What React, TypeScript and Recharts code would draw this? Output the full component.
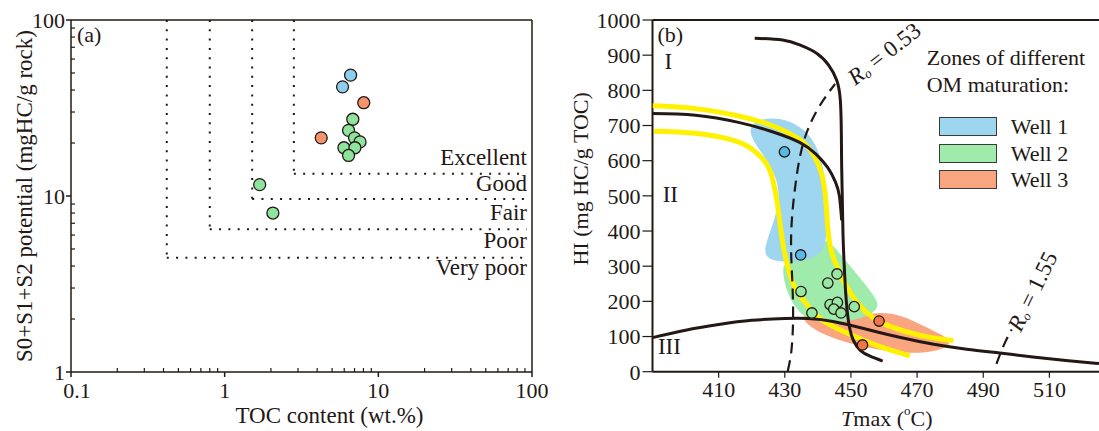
import React from "react";
import {
  ScatterChart,
  Scatter,
  XAxis,
  YAxis,
  ReferenceLine,
  ReferenceDot,
  Legend,
} from "recharts";

const INK = "#231815";
const SERIF = '"Liberation Serif", "Times New Roman", serif';

// ---------- (a) TOC vs S0+S1+S2 ----------
const potentialWell1 = [
  { toc: 6.6, pot: 48.6 },
  { toc: 5.85, pot: 41.7 },
];
const potentialWell2 = [
  { toc: 6.82, pot: 27.3 },
  { toc: 6.4, pot: 23.6 },
  { toc: 7.0, pot: 21.4 },
  { toc: 7.6, pot: 20.3 },
  { toc: 5.97, pot: 18.8 },
  { toc: 7.04, pot: 18.8 },
  { toc: 6.4, pot: 17.0 },
  { toc: 1.69, pot: 11.6 },
  { toc: 2.06, pot: 8.0 },
];
const potentialWell3 = [
  { toc: 8.04, pot: 33.9 },
  { toc: 4.25, pot: 21.4 },
];

// Very poor/Poor, Poor/Fair, Fair/Good, Good/Excellent
const tocCutoffs = [0.42, 0.8, 1.51, 2.82];
const potentialCutoffs = [4.46, 6.47, 9.6, 13.4];
const richnessClasses = ["Very poor", "Poor", "Fair", "Good", "Excellent"];
const richnessLabelPot = [3.9, 5.6, 8.1, 11.7, 16.5];

const tocMajorTicks = [0.1, 1, 10, 100];
const tocMinorTicks = [
  0.2, 0.3, 0.4, 0.5, 0.6, 0.7, 0.8, 0.9, 2, 3, 4, 5, 6, 7, 8, 9, 20, 30, 40,
  50, 60, 70, 80, 90,
];
const potMajorTicks = [1, 10, 100];
const potMinorTicks = [2, 3, 4, 5, 6, 7, 8, 9, 20, 30, 40, 50, 60, 70, 80, 90];

// ---------- (b) Tmax vs HI ----------
const tmaxTicks = [410, 430, 450, 470, 490, 510];
const hiTicks = [0, 100, 200, 300, 400, 500, 600, 700, 800, 900, 1000];

const curveTypeI = [
  { t: 420.9, hi: 948 },
  { t: 429.3, hi: 943 },
  { t: 434.5, hi: 929 },
  { t: 439.7, hi: 905 },
  { t: 443.3, hi: 871 },
  { t: 445.7, hi: 829 },
  { t: 446.8, hi: 771 },
  { t: 447.1, hi: 676 },
  { t: 447.2, hi: 581 },
  { t: 447.4, hi: 486 },
  { t: 447.6, hi: 390 },
  { t: 448.0, hi: 296 },
  { t: 448.6, hi: 200 },
  { t: 449.5, hi: 130 },
  { t: 450.8, hi: 88 },
  { t: 452.9, hi: 60 },
  { t: 455.8, hi: 44 },
  { t: 459.6, hi: 30 },
];
const curveTypeII = [
  { t: 390, hi: 734 },
  { t: 403, hi: 729 },
  { t: 416, hi: 709 },
  { t: 426, hi: 683 },
  { t: 434.5, hi: 652 },
  { t: 439.5, hi: 618 },
  { t: 443, hi: 580 },
  { t: 445.3, hi: 540 },
  { t: 446.5, hi: 500 },
  { t: 447.2, hi: 430 },
];
const curveTypeIII = [
  { t: 390, hi: 97 },
  { t: 400, hi: 118 },
  { t: 410, hi: 134 },
  { t: 420, hi: 146 },
  { t: 430, hi: 151 },
  { t: 437, hi: 151 },
  { t: 445, hi: 142 },
  { t: 455, hi: 120 },
  { t: 465, hi: 97 },
  { t: 475, hi: 78 },
  { t: 485, hi: 64 },
  { t: 495, hi: 53 },
  { t: 505, hi: 42 },
  { t: 515, hi: 32 },
  { t: 525, hi: 23 },
];
const yellowUpper = [
  { t: 390, hi: 756 },
  { t: 403, hi: 748 },
  { t: 416, hi: 727 },
  { t: 426, hi: 700 },
  { t: 434.5, hi: 660 },
  { t: 438.8, hi: 615 },
  { t: 441.2, hi: 560 },
  { t: 442.4, hi: 487 },
  { t: 443, hi: 410 },
  { t: 444, hi: 345 },
  { t: 446.2, hi: 290 },
  { t: 448.5, hi: 245 },
  { t: 452, hi: 195 },
  { t: 456.5, hi: 155 },
  { t: 462, hi: 128 },
  { t: 471, hi: 103 },
  { t: 481, hi: 88 },
];
const yellowLower = [
  { t: 390.5, hi: 684 },
  { t: 403, hi: 678 },
  { t: 414, hi: 659 },
  { t: 420, hi: 633 },
  { t: 424.5, hi: 590 },
  { t: 426.5, hi: 540 },
  { t: 427.8, hi: 475 },
  { t: 429, hi: 390 },
  { t: 430.8, hi: 302 },
  { t: 433, hi: 240 },
  { t: 435.5, hi: 205 },
  { t: 440.6, hi: 152 },
  { t: 448.3, hi: 112 },
  { t: 458, hi: 74 },
  { t: 467.8, hi: 45 },
];
const roLine053 = [
  { t: 430.9, hi: 2 },
  { t: 432.0, hi: 60 },
  { t: 432.5, hi: 150 },
  { t: 432.3, hi: 250 },
  { t: 431.9, hi: 350 },
  { t: 432.2, hi: 440 },
  { t: 433.2, hi: 530 },
  { t: 434.9, hi: 625 },
  { t: 437.7, hi: 705 },
  { t: 441.5, hi: 770 },
  { t: 445.2, hi: 818 },
];
const roLine155 = [
  { t: 494.0, hi: 22 },
  { t: 496.2, hi: 75 },
  { t: 498.6, hi: 120 },
];

const zoneWell1 = [
  { t: 419.5, hi: 702 },
  { t: 423, hi: 720 },
  { t: 428.5, hi: 722 },
  { t: 434, hi: 702 },
  { t: 438.5, hi: 665 },
  { t: 441.3, hi: 600 },
  { t: 442.6, hi: 520 },
  { t: 442.8, hi: 440 },
  { t: 442.6, hi: 372 },
  { t: 441, hi: 333 },
  { t: 436, hi: 314 },
  { t: 431, hi: 311 },
  { t: 425.5, hi: 316 },
  { t: 423.6, hi: 338 },
  { t: 424.8, hi: 380 },
  { t: 427.6, hi: 450 },
  { t: 428.5, hi: 520 },
  { t: 426.3, hi: 575 },
  { t: 422.8, hi: 625 },
  { t: 419.6, hi: 668 },
];
const zoneWell2 = [
  { t: 429.5, hi: 312 },
  { t: 435, hi: 322 },
  { t: 440, hi: 345 },
  { t: 442.3, hi: 382 },
  { t: 445.2, hi: 352 },
  { t: 449.3, hi: 306 },
  { t: 453.5, hi: 258 },
  { t: 457.3, hi: 212 },
  { t: 458.6, hi: 184 },
  { t: 455.8, hi: 160 },
  { t: 451, hi: 147 },
  { t: 445, hi: 139 },
  { t: 439.6, hi: 142 },
  { t: 435.5, hi: 158 },
  { t: 433, hi: 185 },
  { t: 430.4, hi: 230 },
  { t: 429.4, hi: 280 },
];
const zoneWell3 = [
  { t: 435, hi: 166 },
  { t: 441, hi: 170 },
  { t: 447, hi: 164 },
  { t: 453, hi: 160 },
  { t: 459, hi: 170 },
  { t: 465.5, hi: 160 },
  { t: 471.5, hi: 132 },
  { t: 477.5, hi: 106 },
  { t: 480.8, hi: 82 },
  { t: 477.5, hi: 62 },
  { t: 471, hi: 52 },
  { t: 464, hi: 55 },
  { t: 455.5, hi: 67 },
  { t: 447, hi: 87 },
  { t: 440, hi: 113 },
  { t: 436, hi: 140 },
];

const hiWell1 = [
  { t: 429.9, hi: 625 },
  { t: 434.8, hi: 332 },
];
const hiWell2 = [
  { t: 434.9, hi: 228 },
  { t: 438.2, hi: 167 },
  { t: 443, hi: 252 },
  { t: 445.8, hi: 278 },
  { t: 443.7, hi: 191 },
  { t: 445.9, hi: 197 },
  { t: 444.8, hi: 178 },
  { t: 447, hi: 167 },
  { t: 451, hi: 185 },
];
const hiWell3 = [
  { t: 458.5, hi: 144 },
  { t: 453.5, hi: 76 },
];

const zoneNames = ["Well 1", "Well 2", "Well 3"];
const zoneColors = ["#9fd6ef", "#9eebac", "#f9a57f"];

const NoShape = () => <g />;

const dot = (fill: string, r: number) => (props: any) =>
  (
    <circle
      cx={props.cx}
      cy={props.cy}
      r={r}
      fill={fill}
      stroke={INK}
      strokeWidth={1.3}
    />
  );

const textStyle = { fill: INK, fontFamily: SERIF };
const TICK_FONT = 22;

const LogXTick = (props: any) => {
  const { x, y, payload } = props;
  const v = payload.value;
  if (!tocMajorTicks.includes(v)) {
    return <line x1={x} x2={x} y1={y} y2={y - 4} stroke={INK} strokeWidth={1.2} />;
  }
  return (
    <g>
      <line x1={x} x2={x} y1={y} y2={y + 5} stroke={INK} strokeWidth={1.5} />
      <text
        x={x + (v === 0.1 ? 6 : 0)}
        y={y + 18}
        textAnchor="middle"
        dominantBaseline="central"
        fontSize={TICK_FONT}
        {...textStyle}
      >
        {v}
      </text>
    </g>
  );
};

const LogYTick = (props: any) => {
  const { x, y, payload } = props;
  const v = payload.value;
  if (!potMajorTicks.includes(v)) {
    return <line x1={x} x2={x + 4} y1={y} y2={y} stroke={INK} strokeWidth={1.2} />;
  }
  return (
    <g>
      <line x1={x - 5} x2={x} y1={y} y2={y} stroke={INK} strokeWidth={1.5} />
      <text
        x={x - 6}
        y={y}
        textAnchor="end"
        dominantBaseline="central"
        fontSize={TICK_FONT}
        {...textStyle}
      >
        {v}
      </text>
    </g>
  );
};

// axis titles, placed relative to the axis line (right edge of a left y-axis)
const YTitle = (props: any) => {
  const vb = props.viewBox || { x: props.fx, y: 20, width: 0, height: 352 };
  const cx = vb.x + vb.width + props.dx;
  const cy = vb.y + vb.height / 2 + props.dy;
  return (
    <text
      x={cx}
      y={cy}
      transform={`rotate(-90, ${cx}, ${cy})`}
      textAnchor="middle"
      dominantBaseline="central"
      fontSize={props.size}
      {...textStyle}
    >
      {props.children}
    </text>
  );
};

const XTitle = (props: any) => {
  const vb = props.viewBox || { x: props.fx, y: 372, width: props.fw, height: 0 };
  const cx = vb.x + vb.width / 2 + props.dx;
  const cy = vb.y + props.dy;
  return (
    <text
      x={cx}
      y={cy}
      textAnchor="middle"
      dominantBaseline="central"
      fontSize={props.size}
      {...textStyle}
    >
      {props.children}
    </text>
  );
};

const ZoneLegend = () => (
  <div
    style={{
      fontFamily: SERIF,
      fontSize: 22,
      lineHeight: "27px",
      color: INK,
      whiteSpace: "nowrap",
      textAlign: "left",
    }}
  >
    <div>Zones of different</div>
    <div>OM maturation:</div>
    <div style={{ marginTop: 15, paddingLeft: 12 }}>
      {zoneNames.map((name, i) => (
        <div
          key={name}
          style={{ display: "flex", alignItems: "center", height: 26.7 }}
        >
          <span
            style={{
              display: "inline-block",
              width: 56,
              height: 17,
              background: zoneColors[i],
              border: "1.5px solid #3a3a3a",
              marginRight: 14,
            }}
          />
          <span>{name}</span>
        </div>
      ))}
    </div>
  </div>
);

const RoLabel = (value: string, angle: number) => (props: any) => {
  const { cx, cy } = props;
  return (
    <text
      x={cx}
      y={cy}
      transform={`rotate(${angle}, ${cx}, ${cy})`}
      textAnchor="middle"
      dominantBaseline="central"
      fontSize={23}
      {...textStyle}
    >
      <tspan fontStyle="italic">R</tspan>
      <tspan fontSize={13} dy={5} fontStyle="italic">
        o
      </tspan>
      <tspan dy={-5}>{` = ${value}`}</tspan>
    </text>
  );
};

const PlainLabel =
  (value: string, dx: number, dy: number, anchor: string, size = 23) =>
  (props: any) =>
    (
      <text
        x={props.cx + dx}
        y={props.cy + dy}
        textAnchor={anchor as any}
        dominantBaseline="central"
        fontSize={size}
        {...textStyle}
      >
        {value}
      </text>
    );

function RichnessChart() {
  return (
    <ScatterChart
      width={560}
      height={431}
      margin={{ top: 20, right: 28, bottom: 19, left: 11 }}
    >
      <XAxis
        type="number"
        dataKey="toc"
        scale="log"
        domain={[0.1, 100]}
        allowDataOverflow
        ticks={[...tocMajorTicks, ...tocMinorTicks]}
        interval={0}
        height={40}
        tickSize={0}
        tickMargin={0}
        tickLine={false}
        tick={<LogXTick />}
        axisLine={{ stroke: INK, strokeWidth: 1.5 }}
        label={
          <XTitle dx={28} dy={43} size={23} fx={71} fw={461}>
            TOC content (wt.%)
          </XTitle>
        }
      />
      <YAxis
        type="number"
        dataKey="pot"
        scale="log"
        domain={[1, 100]}
        allowDataOverflow
        ticks={[...potMajorTicks, ...potMinorTicks]}
        interval={0}
        width={60}
        tickSize={0}
        tickMargin={0}
        tickLine={false}
        tick={<LogYTick />}
        axisLine={{ stroke: INK, strokeWidth: 1.5 }}
        label={
          <YTitle dx={-47} dy={0} size={23} fx={71}>
            S0+S1+S2 potential (mgHC/g rock)
          </YTitle>
        }
      />
      <ReferenceLine y={100} stroke={INK} strokeWidth={1.5} />
      <ReferenceLine x={100} stroke={INK} strokeWidth={1.5} />
      {tocCutoffs.map((c, i) => (
        <ReferenceLine
          key={`v${c}`}
          segment={[
            { x: c, y: 100 },
            { x: c, y: potentialCutoffs[i] },
          ]}
          stroke={INK}
          strokeWidth={2}
          strokeDasharray="2 7.3"
        />
      ))}
      {potentialCutoffs.map((p, i) => (
        <ReferenceLine
          key={`h${p}`}
          segment={[
            { x: tocCutoffs[i], y: p },
            { x: 92, y: p },
          ]}
          stroke={INK}
          strokeWidth={2}
          strokeDasharray="2 7.3"
        />
      ))}
      {richnessClasses.map((name, i) => (
        <ReferenceDot
          key={name}
          x={100}
          y={richnessLabelPot[i]}
          r={0}
          shape={PlainLabel(name, -5, 0, "end")}
        />
      ))}
      <ReferenceDot x={0.1} y={100} r={0} shape={PlainLabel("(a)", 6, 14, "start", 22)} />
      <Scatter data={potentialWell1} shape={dot("#8fcdee", 6)} isAnimationActive={false} />
      <Scatter data={potentialWell2} shape={dot("#8ee49c", 6)} isAnimationActive={false} />
      <Scatter data={potentialWell3} shape={dot("#f5946c", 6)} isAnimationActive={false} />
    </ScatterChart>
  );
}

function MaturityChart() {
  const curve = (data: any[], stroke: string, width: number, dash?: string) => (
    <Scatter
      data={data}
      line={{ stroke, strokeWidth: width, fill: "none", strokeDasharray: dash, strokeLinecap: "butt" }}
      lineJointType="natural"
      shape={NoShape}
      isAnimationActive={false}
      legendType="none"
    />
  );
  const zone = (data: any[], fill: string) => (
    <Scatter
      data={data}
      line={{ fill, stroke: "none" }}
      lineJointType="basisClosed"
      shape={NoShape}
      isAnimationActive={false}
      legendType="none"
    />
  );
  return (
    <ScatterChart
      width={539}
      height={431}
      margin={{ top: 20, right: 0, bottom: 19.3, left: 12.5 }}
    >
      <XAxis
        type="number"
        dataKey="t"
        domain={[390, 525]}
        allowDataOverflow
        ticks={tmaxTicks}
        interval={0}
        height={40}
        tickSize={6}
        tickMargin={4}
        axisLine={{ stroke: INK, strokeWidth: 2 }}
        tickLine={{ stroke: INK, strokeWidth: 1.2 }}
        tick={{ fill: INK, fontSize: TICK_FONT, fontFamily: SERIF }}
        label={
          <XTitle dx={11} dy={46} size={22} fx={92.5} fw={446.5}>
            <tspan fontStyle="italic">T</tspan>
            <tspan>max (</tspan>
            <tspan fontSize={13} dy={-8}>
              o
            </tspan>
            <tspan dy={8}>C)</tspan>
          </XTitle>
        }
      />
      <YAxis
        type="number"
        dataKey="hi"
        domain={[0, 1000]}
        allowDataOverflow
        ticks={hiTicks}
        interval={0}
        width={80}
        tickSize={10}
        tickMargin={2}
        axisLine={{ stroke: INK, strokeWidth: 2 }}
        tickLine={{ stroke: INK, strokeWidth: 1.2 }}
        tick={{ fill: INK, fontSize: TICK_FONT, fontFamily: SERIF }}
        label={
          <YTitle dx={-71.5} dy={-17} size={22} fx={92.5}>
            HI (mg HC/g TOC)
          </YTitle>
        }
      />
      <ReferenceLine y={1000} stroke={INK} strokeWidth={2} />
      {zone(zoneWell3, zoneColors[2])}
      {zone(zoneWell2, zoneColors[1])}
      {zone(zoneWell1, zoneColors[0])}
      {curve(yellowUpper, "#fff200", 5)}
      {curve(yellowLower, "#fff200", 5)}
      {curve(curveTypeIII, INK, 3)}
      {curve(curveTypeII, INK, 3)}
      {curve(curveTypeI, INK, 3)}
      {curve(roLine053, INK, 2.2, "11 7")}
      {curve(roLine155, INK, 2.2, "11 7")}
      <Scatter data={hiWell1} shape={dot("#57b9e6", 5.2)} isAnimationActive={false} legendType="none" />
      <Scatter data={hiWell2} shape={dot("#98e8a4", 5.2)} isAnimationActive={false} legendType="none" />
      <Scatter data={hiWell3} shape={dot("#f07649", 5.2)} isAnimationActive={false} legendType="none" />
      <ReferenceDot x={390} y={1000} r={0} shape={PlainLabel("(b)", 5, 14, "start", 22)} />
      <ReferenceDot x={394.8} y={881} r={0} shape={PlainLabel("I", 0, 0, "middle")} />
      <ReferenceDot x={395.4} y={505} r={0} shape={PlainLabel("II", 0, 0, "middle")} />
      <ReferenceDot x={395.1} y={71} r={0} shape={PlainLabel("III", 0, 0, "middle")} />
      <ReferenceDot x={460} y={905} r={0} shape={RoLabel("0.53", -38)} />
      <ReferenceDot x={504.8} y={229} r={0} shape={RoLabel("1.55", -64)} />
      <Legend
        layout="vertical"
        align="center"
        verticalAlign="middle"
        content={<ZoneLegend />}
        wrapperStyle={{ left: 366.7, top: 44, width: 175 }}
      />
    </ScatterChart>
  );
}

export default function App() {
  return (
    <div
      style={{
        position: "absolute",
        left: 0,
        top: 0,
        width: 1099,
        height: 431,
        background: "#fff",
      }}
    >
      <div style={{ position: "absolute", left: 0, top: 0 }}>
        <RichnessChart />
      </div>
      <div style={{ position: "absolute", left: 560, top: 0 }}>
        <MaturityChart />
      </div>
    </div>
  );
}
